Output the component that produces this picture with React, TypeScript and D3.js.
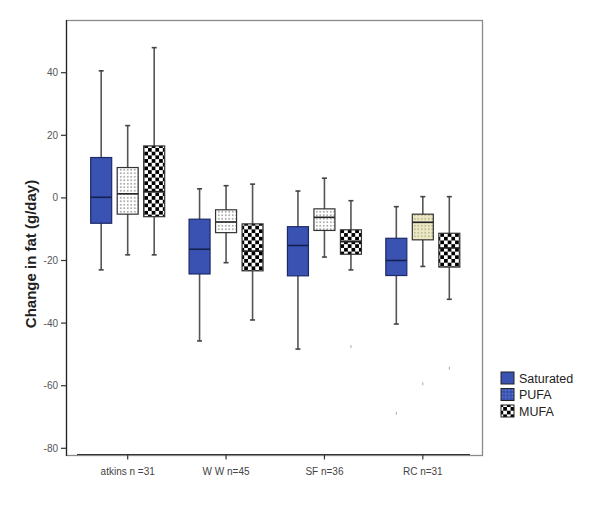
import React from "react";
import * as d3 from "d3";

const groups = ["atkins n =31", "W W n=45", "SF n=36", "RC n=31"];
const series = ["Saturated", "PUFA", "MUFA"];
const yTicks = [40, 20, 0, -20, -40, -60, -80];

// per series, per group: [whiskerLow, q1, median, q3, whiskerHigh]
const saturatedStats = [
  [-23, -8.1, 0.2, 12.9, 40.6],
  [-45.7, -24.3, -16.4, -6.8, 2.9],
  [-48.3, -24.9, -15.2, -9.2, 2.2],
  [-40.3, -24.8, -20, -12.9, -2.8],
];
const pufaStats = [
  [-18.2, -5.2, 1.3, 9.7, 23.1],
  [-20.7, -11.1, -7.7, -3.8, 3.9],
  [-18.9, -10.4, -6.2, -3.5, 6.3],
  [-21.9, -13.4, -7.8, -5.2, 0.4],
];
const mufaStats = [
  [-18.2, -6, 2, 16.6, 48],
  [-39, -23.3, -17, -8.3, 4.4],
  [-23, -18, -14, -10.2, -0.9],
  [-32.4, -22.1, -16, -11.3, 0.4],
];
// outliers: [groupIndex, seriesIndex, value]
const outliers = [
  [2, 2, -47.5],
  [3, 2, -54.4],
  [3, 1, -59.4],
  [3, 0, -68.8],
];

const BLUE = "#3a53b3";

export default function App() {
  const y = d3.scaleLinear().domain([-80, 40]).range([448.3, 72.7]);
  const x = d3.scaleBand().domain(groups).range([78.5, 472]);
  const inner = d3.scalePoint().domain(series).range([-26.5, 26.5]);
  const bw = 21;
  const allStats = [saturatedStats, pufaStats, mufaStats];
  const fills = (si: number, gi: number) => {
    if (si === 0) return BLUE;
    if (si === 1) return gi === 3 ? "url(#dotsCream)" : "url(#dots)";
    return "url(#checks)";
  };
  const cx = (gi: number, si: number) =>
    (x(groups[gi]) as number) + x.bandwidth() / 2 + (inner(series[si]) as number);

  return (
    <svg
      width={600}
      height={510}
      style={{ position: "absolute", left: 0, top: 0, background: "#fff" }}
      fontFamily="Liberation Sans, Arial, sans-serif"
    >
      <defs>
        <pattern id="dots" width="3.5" height="3.5" patternUnits="userSpaceOnUse">
          <rect width="3.5" height="3.5" fill="#fff" />
          <rect x="1.2" y="1.2" width="1.1" height="1.1" fill="#333" />
        </pattern>
        <pattern id="dotsCream" width="3.5" height="3.5" patternUnits="userSpaceOnUse">
          <rect width="3.5" height="3.5" fill="#ece8c4" />
          <rect x="1.2" y="1.2" width="1.1" height="1.1" fill="#7a7a60" />
        </pattern>
        <pattern id="dotsBlue" width="3.5" height="3.5" patternUnits="userSpaceOnUse">
          <rect width="3.5" height="3.5" fill={BLUE} />
          <rect x="1.2" y="1.2" width="1.1" height="1.1" fill="#8fa0e0" />
        </pattern>
        <pattern id="checks" width="7.4" height="7.4" patternUnits="userSpaceOnUse">
          <rect width="7.4" height="7.4" fill="#fff" />
          <rect x="0" y="0" width="3.7" height="3.7" fill="#000" />
          <rect x="3.7" y="3.7" width="3.7" height="3.7" fill="#000" />
        </pattern>
      </defs>

      {/* frame */}
      <rect x={66.5} y={20.5} width={416} height={435} fill="none" stroke="#8a8a8a" strokeWidth={1.3} />
      <line x1={66.5} x2={66.5} y1={20} y2={456} stroke="#222" strokeWidth={1.2} />
      <line x1={77} x2={470} y1={454.5} y2={454.5} stroke="#333" strokeWidth={1.2} />

      {/* y ticks */}
      {yTicks.map((t) => (
        <g key={t}>
          <line x1={61} x2={66.5} y1={y(t)} y2={y(t)} stroke="#333" strokeWidth={1.2} />
          <text x={58} y={y(t) + 3.5} textAnchor="end" fontSize={10} fill="#555">
            {t}
          </text>
        </g>
      ))}
      <text
        transform={`translate(36,254) rotate(-90)`}
        textAnchor="middle"
        fontSize={15}
        fontWeight="bold"
        fill="#222"
      >
        Change in fat (g/day)
      </text>

      {/* x ticks */}
      {groups.map((g) => {
        const c = (x(g) as number) + x.bandwidth() / 2;
        return (
          <g key={g}>
            <line x1={c} x2={c} y1={454.5} y2={459.5} stroke="#333" strokeWidth={1.2} />
            <text x={c} y={475} textAnchor="middle" fontSize={10} fill="#444">
              {g}
            </text>
          </g>
        );
      })}

      {/* boxes */}
      {allStats.map((st, si) =>
        st.map((s, gi) => {
          const c = cx(gi, si);
          const [lo, q1, med, q3, hi] = s;
          return (
            <g key={`${si}-${gi}`}>
              <line x1={c} x2={c} y1={y(hi)} y2={y(lo)} stroke="#555" strokeWidth={1.6} />
              <line x1={c - 2.5} x2={c + 2.5} y1={y(hi)} y2={y(hi)} stroke="#444" strokeWidth={1.6} />
              <line x1={c - 2.5} x2={c + 2.5} y1={y(lo)} y2={y(lo)} stroke="#444" strokeWidth={1.6} />
              <rect
                x={c - bw / 2}
                y={y(q3)}
                width={bw}
                height={y(q1) - y(q3)}
                fill={fills(si, gi)}
                stroke={si === 0 ? "#1c2a66" : "#333"}
                strokeWidth={1.2}
              />
              <line
                x1={c - bw / 2}
                x2={c + bw / 2}
                y1={y(med)}
                y2={y(med)}
                stroke={si === 0 ? "#14204f" : "#222"}
                strokeWidth={1.6}
              />
            </g>
          );
        })
      )}

      {/* outliers */}
      {outliers.map(([gi, si, v], i) => {
        const c = cx(gi, si);
        return (
          <line key={i} x1={c} x2={c} y1={y(v) - 1.5} y2={y(v) + 1.5} stroke="#aaa" strokeWidth={1} />
        );
      })}

      {/* legend */}
      {series.map((s, i) => {
        const yy = 372 + i * 16.5;
        const fill = i === 0 ? BLUE : i === 1 ? "url(#dotsBlue)" : "url(#checks)";
        return (
          <g key={s}>
            <rect x={501} y={yy} width={13} height={12} fill={fill} stroke="#222" strokeWidth={1} />
            <text x={519} y={yy + 10.5} fontSize={12.5} fill="#222">
              {s}
            </text>
          </g>
        );
      })}
    </svg>
  );
}
